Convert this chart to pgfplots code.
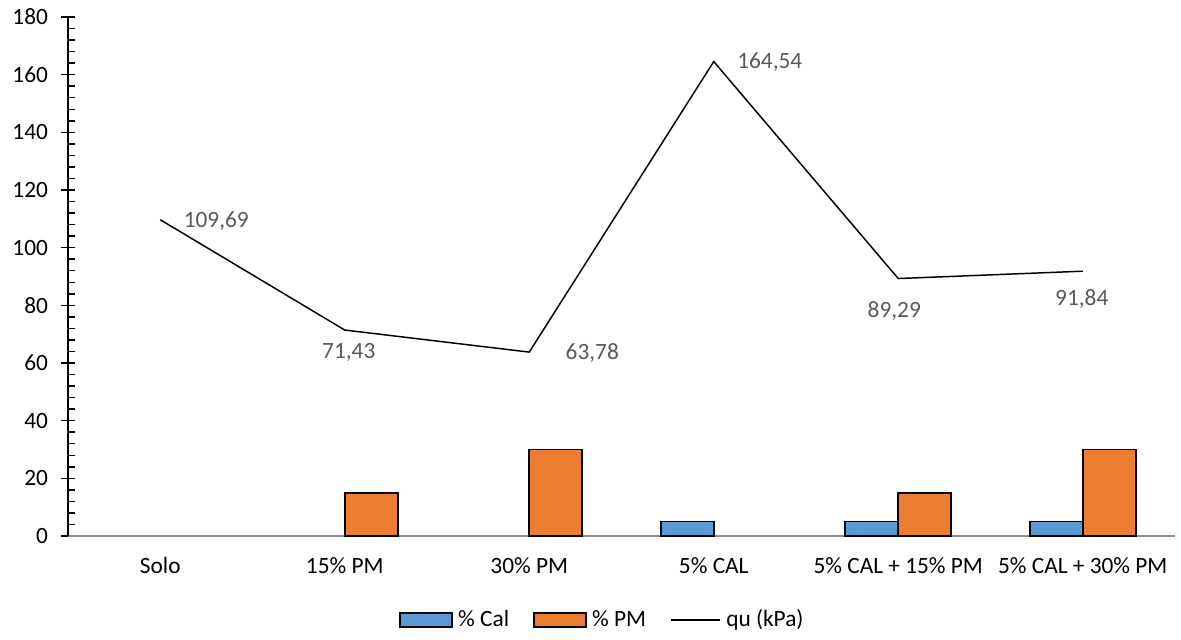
\documentclass[border=0pt]{standalone}
\usepackage{pgfplots}
\pgfplotsset{compat=1.18}
\usepackage{fontspec}
\setmainfont{Carlito}
\definecolor{cblue}{HTML}{5B9BD5}
\definecolor{corange}{HTML}{ED7D31}
\definecolor{labgray}{HTML}{595959}
\definecolor{axgray}{HTML}{8C8C8C}
\newcommand{\fs}{\fontsize{17.5}{20}\selectfont}
\pgfplotsset{
  boxlegend/.style={legend image code/.code={\draw[##1] (0pt,-5.25pt) rectangle (39pt,5.25pt);}},
  linelegend/.style={legend image code/.code={\draw[##1] (0pt,0pt) -- (37pt,0pt);}},
}
\begin{document}
\fs
\begin{tikzpicture}
\path[use as bounding box] (-51pt,-77.25pt) rectangle (834.75pt,402pt);
\begin{axis}[
  at={(0pt,0pt)}, anchor=south west,
  scale only axis, width=830.25pt, height=389.25pt,
  xmin=-0.5, xmax=5.5, ymin=0, ymax=180,
  axis x line=bottom, axis y line=left,
  axis line style={-},
  x axis line style={draw=axgray, line width=1.1pt},
  y axis line style={draw=black, line width=1.1pt},
  xtick={0,1,2,3,4,5},
  xticklabels={Solo,15\% PM,30\% PM,5\% CAL,5\% CAL + 15\% PM,5\% CAL + 30\% PM},
  x tick style={draw=none},
  xticklabel style={yshift=-10pt},
  ytick={0,20,...,180},
  minor y tick num=4,
  tick align=inside,
  y tick style={draw=black, line width=1.1pt},
  major tick length=5.25pt, minor tick length=5.25pt,
  extra y ticks={0,20,...,180},
  extra y tick labels={},
  extra y tick style={tick align=outside, major tick length=5.25pt},
  yticklabel style={xshift=-9pt},
  tick label style={font=\fs, text=black},
  /pgf/number format/assume math mode=true,
  legend style={at={(0.483,-0.162)}, anchor=center, draw=none, legend columns=-1,
    font=\fs,
    /tikz/every odd column/.append style={column sep=2pt},
    /tikz/every even column/.append style={column sep=16pt}},
  clip=false,
]
\addplot[ybar, bar width=39.75pt, bar shift=-19.875pt, fill=cblue, draw=black, line width=1.3pt, boxlegend]
  coordinates {(3,5) (4,5) (5,5)};
\addlegendentry{\% Cal}
\addplot[ybar, bar width=39.75pt, bar shift=19.875pt, fill=corange, draw=black, line width=1.3pt, boxlegend]
  coordinates {(1,15) (2,30) (4,15) (5,30)};
\addlegendentry{\% PM}
\addplot[black, line width=1.1pt, mark=none,
  nodes near coords, point meta=explicit symbolic,
  visualization depends on={\thisrow{dx} \as \dx},
  visualization depends on={\thisrow{dy} \as \dy},
  every node near coord/.append style={anchor=center, xshift=\dx pt, yshift=\dy pt,
    text=labgray, font=\fs},
  linelegend]
  table[x=x, y=y, meta=lab] {
x y lab dx dy
0 109.69 109,69 42 -0.75
1 71.43 71,43 3 -16.5
2 63.78 63,78 47.25 -0.75
3 164.54 164,54 42 -0.75
4 89.29 89,29 -3 -24
5 91.84 91,84 -0.75 -21
};
\addlegendentry{qu (kPa)}
\end{axis}
\end{tikzpicture}
\end{document}
